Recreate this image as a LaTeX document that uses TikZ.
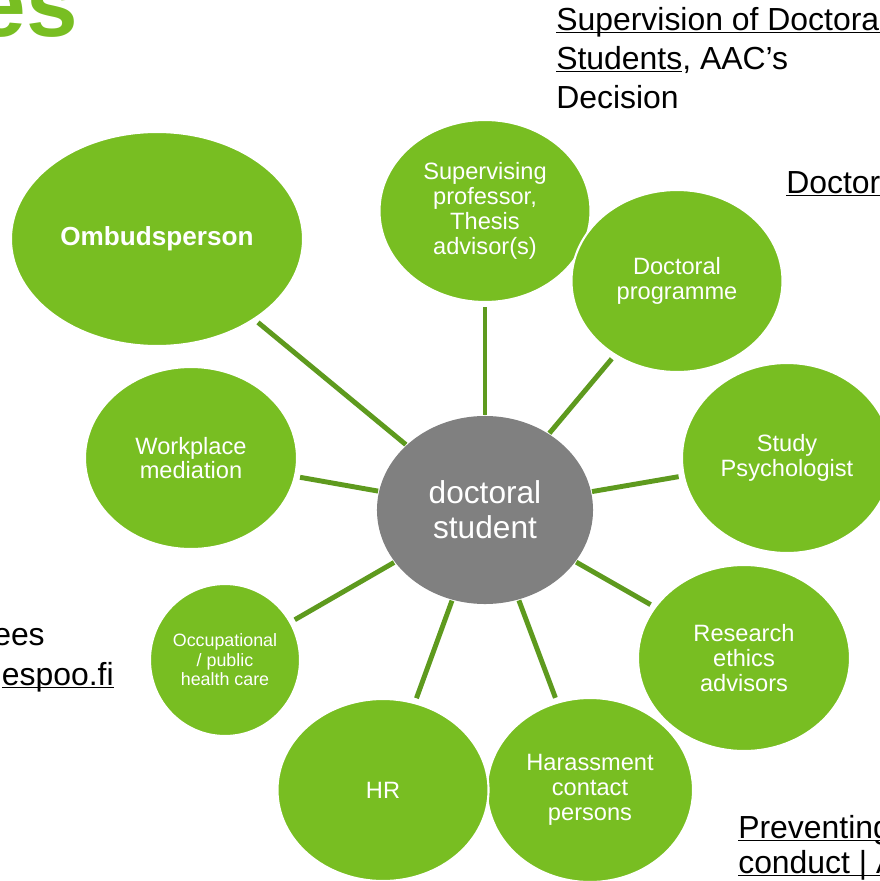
\documentclass[tikz,border=0pt]{standalone}
\usepackage{fontspec}
\setmainfont{Liberation Sans}
\usetikzlibrary{shapes.geometric}
\definecolor{aaltogreen}{RGB}{120,190,34}
\definecolor{linegreen}{RGB}{94,154,30}
\definecolor{centergray}{RGB}{128,128,128}
\newcommand\ulx[1]{\underline{\smash{#1}}}
\begin{document}
\begin{tikzpicture}[x=0.025cm,y=-0.025cm,
  bub/.style={ellipse,fill=aaltogreen,draw=white,line width=1.5pt,inner sep=0pt,
    text=white,align=center,font=\fontsize{16.8}{17.7}\selectfont},
  conn/.style={draw=linegreen,line width=3.5pt,shorten >=3pt},
  side/.style={anchor=base west,inner sep=0pt,font=\fontsize{22.7}{27.6}\selectfont},
  sider/.style={anchor=base east,inner sep=0pt,font=\fontsize{22.7}{27.6}\selectfont}]
\useasboundingbox (0,0) rectangle (880,881);
\clip (0,0) rectangle (880,881);
% title fragment
\node[anchor=base east,inner sep=0pt,text=aaltogreen,font=\bfseries\fontsize{66}{70}\selectfont] (title) at (78,36) {es};
% side texts
\node[side] (t1) at (556,30) {\ulx{Supervision of Doctoral}};
\node[side] (t2) at (556,69) {\ulx{Students}, AAC’s};
\node[side] (t3) at (556,108) {Decision};
\node[side] (t4) at (786,193) {\ulx{Doctor}};
\node[sider] (l1) at (45,645) {ees};
\node[sider] (l2) at (114,685) {\ulx{espoo.fi}};
\node[side] (b1) at (738,838) {\ulx{Preventing}};
\node[side] (b2) at (738,873) {\ulx{conduct | A}};
% bubbles
\node[bub,minimum width=7.3cm,minimum height=5.35cm,font=\bfseries\fontsize{18.6}{20}\selectfont] (om) at (157,239) {Ombudsperson};
\node[bub,minimum width=5.3cm,minimum height=4.55cm] (wm) at (191,458) {Workplace\\mediation};
\node[bub,minimum width=3.75cm,minimum height=3.8cm,font=\fontsize{12.7}{13.8}\selectfont] (oc) at (225,660) {Occupational\\/ public\\health care};
\node[bub,minimum width=5.15cm,minimum height=4.6cm] (ha) at (590,790) {Harassment\\contact\\persons};
\node[bub,minimum width=5.275cm,minimum height=4.55cm] (hr) at (383,790) {HR};
\node[bub,minimum width=5.275cm,minimum height=4.55cm] (sup) at (485,211) {Supervising\\professor,\\Thesis\\advisor(s)};
\node[bub,minimum width=5.275cm,minimum height=4.55cm] (dp) at (677,281) {Doctoral\\programme};
\node[bub,minimum width=5.25cm,minimum height=4.75cm] (sp) at (787,458) {Study\\Psychologist};
\node[bub,minimum width=5.3cm,minimum height=4.65cm] (re) at (744,658) {Research\\ethics\\advisors};
\node[bub,fill=centergray,draw=none,minimum width=5.4cm,minimum height=4.7cm,font=\fontsize{22.5}{24.8}\selectfont] (c) at (485,510) {doctoral\\student};
% connectors
\draw[conn] (c) -- (om);
\draw[conn] (c) -- (sup);
\draw[conn] (c) -- (dp);
\draw[conn] (c) -- (sp);
\draw[conn] (c) -- (re);
\draw[conn] (c) -- (ha);
\draw[conn] (c) -- (hr);
\draw[conn] (c) -- (oc);
\draw[conn] (c) -- (wm);
\end{tikzpicture}
\end{document}
